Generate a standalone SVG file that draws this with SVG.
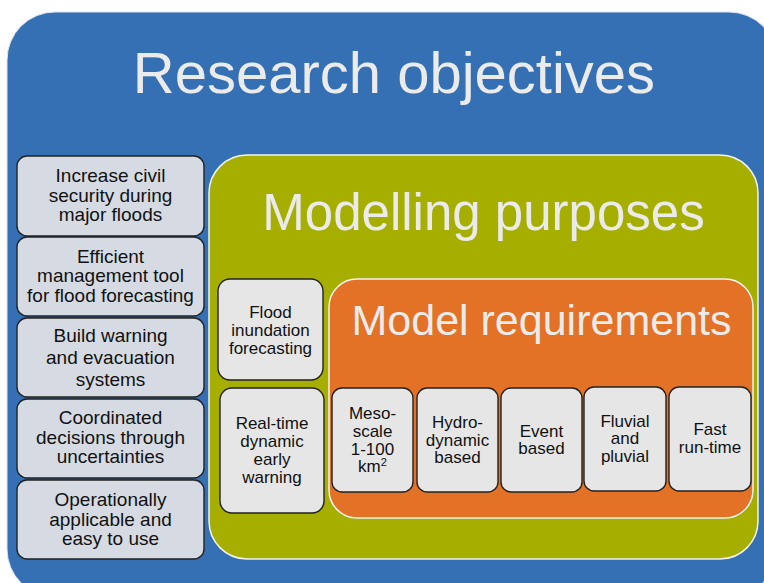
<svg xmlns="http://www.w3.org/2000/svg" width="764" height="583" viewBox="0 0 764 583">
  <style>
    text { font-family: "Liberation Sans", Arial, sans-serif; text-anchor: middle; }
    .title { fill: #ebebeb; }
    .obj rect { fill: #d6dbe3; stroke: #222; stroke-width: 1.4; }
    .item rect { fill: #e6e6e6; stroke: #222; stroke-width: 1.4; }
    .obj text { font-size: 19px; fill: #111; }
    .item text { font-size: 17px; fill: #111; }
  </style>
  <rect width="764" height="583" fill="#ffffff"/>

  <!-- outer container -->
  <g id="research-objectives">
    <rect x="7" y="12" width="770" height="585" rx="48" fill="#3470b3" stroke="#dfe6f0" stroke-width="1"/>
    <text class="title" x="394" y="93" font-size="58">Research objectives</text>
  </g>

  <!-- objective boxes -->
  <g id="obj-civil-security" class="obj">
    <rect x="17" y="156" width="187" height="80" rx="10"/>
    <text x="110.5" y="182">Increase civil</text>
    <text x="110.5" y="201.5">security during</text>
    <text x="110.5" y="221">major floods</text>
  </g>
  <g id="obj-management-tool" class="obj">
    <rect x="17" y="237" width="187" height="79" rx="10"/>
    <text x="110.5" y="262.5">Efficient</text>
    <text x="110.5" y="282">management tool</text>
    <text x="110.5" y="301.5">for flood forecasting</text>
  </g>
  <g id="obj-warning-systems" class="obj">
    <rect x="17" y="318" width="187" height="79" rx="10"/>
    <text x="110.5" y="342">Build warning</text>
    <text x="110.5" y="364">and evacuation</text>
    <text x="110.5" y="386">systems</text>
  </g>
  <g id="obj-coordinated-decisions" class="obj">
    <rect x="17" y="399" width="187" height="79" rx="10"/>
    <text x="110.5" y="424">Coordinated</text>
    <text x="110.5" y="443.5">decisions through</text>
    <text x="110.5" y="463">uncertainties</text>
  </g>
  <g id="obj-operational" class="obj">
    <rect x="17" y="480" width="187" height="79" rx="10"/>
    <text x="110.5" y="506">Operationally</text>
    <text x="110.5" y="525.5">applicable and</text>
    <text x="110.5" y="545">easy to use</text>
  </g>

  <!-- modelling purposes container -->
  <g id="modelling-purposes">
    <rect x="209" y="155" width="549" height="404" rx="38" fill="#a6ae00" stroke="#f2f2f2" stroke-width="1.5"/>
    <text class="title" x="483.5" y="230" font-size="51">Modelling purposes</text>
  </g>

  <g id="purpose-inundation" class="item">
    <rect x="218" y="279" width="105" height="101" rx="12"/>
    <text x="270.5" y="318">Flood</text>
    <text x="270.5" y="336">inundation</text>
    <text x="270.5" y="353.5">forecasting</text>
  </g>
  <g id="purpose-early-warning" class="item">
    <rect x="220" y="388" width="104" height="125" rx="12"/>
    <text x="272" y="429">Real-time</text>
    <text x="272" y="447">dynamic</text>
    <text x="272" y="465">early</text>
    <text x="272" y="483">warning</text>
  </g>

  <!-- model requirements container -->
  <g id="model-requirements">
    <rect x="329" y="279" width="424" height="239" rx="28" fill="#e37227" stroke="#f2f2f2" stroke-width="1.5"/>
    <text class="title" x="541.5" y="335" font-size="43">Model requirements</text>
  </g>

  <g id="req-mesoscale" class="item">
    <rect x="332" y="388" width="81" height="104" rx="10"/>
    <text x="372.5" y="419">Meso-</text>
    <text x="372.5" y="437">scale</text>
    <text x="372.5" y="455">1-100</text>
    <text x="372.5" y="472">km<tspan font-size="11" dy="-6">2</tspan></text>
  </g>
  <g id="req-hydrodynamic" class="item">
    <rect x="417" y="388" width="81" height="104" rx="10"/>
    <text x="457.5" y="428">Hydro-</text>
    <text x="457.5" y="446">dynamic</text>
    <text x="457.5" y="463">based</text>
  </g>
  <g id="req-event" class="item">
    <rect x="501" y="388" width="81" height="104" rx="10"/>
    <text x="541.5" y="437">Event</text>
    <text x="541.5" y="454">based</text>
  </g>
  <g id="req-fluvial" class="item">
    <rect x="584" y="387" width="82" height="104" rx="10"/>
    <text x="625" y="427">Fluvial</text>
    <text x="625" y="444">and</text>
    <text x="625" y="462">pluvial</text>
  </g>
  <g id="req-runtime" class="item">
    <rect x="669" y="387" width="82" height="104" rx="10"/>
    <text x="710" y="435">Fast</text>
    <text x="710" y="453">run-time</text>
  </g>

  <g id="connectors"/>
</svg>
